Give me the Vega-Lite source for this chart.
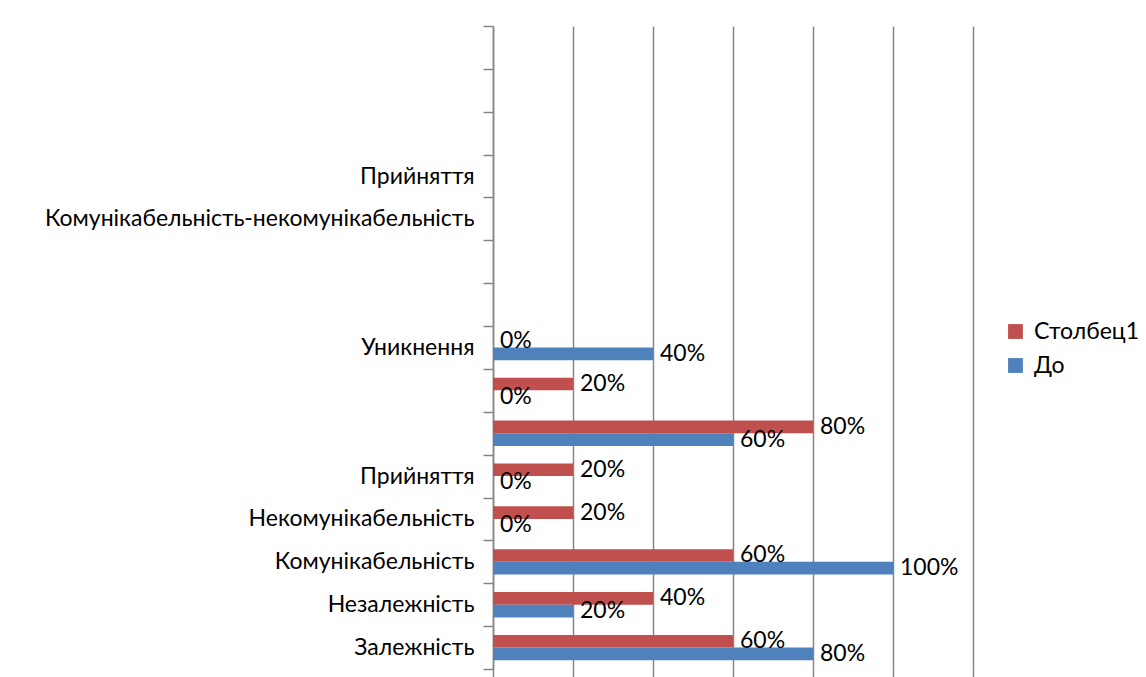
{
  "$schema": "https://vega.github.io/schema/vega-lite/v6.json",
  "width": 480,
  "height": 643,
  "autosize": "none",
  "padding": {"left": 493, "top": 26, "right": 173, "bottom": 8},
  "background": "white",
  "config": {"view": {"stroke": null}, "font": "Lato"},
  "data": {
    "values": [
      {"cat": "8|Уникнення\u00a0", "series": "Столбец1", "value": 0},
      {"cat": "8|Уникнення\u00a0", "series": "До", "value": 0.4},
      {"cat": "7|", "series": "Столбец1", "value": 0.2},
      {"cat": "7|", "series": "До", "value": 0},
      {"cat": "6|", "series": "Столбец1", "value": 0.8},
      {"cat": "6|", "series": "До", "value": 0.6},
      {"cat": "5|Прийняття\u00a0", "series": "Столбец1", "value": 0.2},
      {"cat": "5|Прийняття\u00a0", "series": "До", "value": 0},
      {"cat": "4|Некомунікабельність", "series": "Столбец1", "value": 0.2},
      {"cat": "4|Некомунікабельність", "series": "До", "value": 0},
      {"cat": "3|Комунікабельність", "series": "Столбец1", "value": 0.6},
      {"cat": "3|Комунікабельність", "series": "До", "value": 1.0},
      {"cat": "2|Незалежність", "series": "Столбец1", "value": 0.4},
      {"cat": "2|Незалежність", "series": "До", "value": 0.2},
      {"cat": "1|Залежність", "series": "Столбец1", "value": 0.6},
      {"cat": "1|Залежність", "series": "До", "value": 0.8}
    ]
  },
  "encoding": {
    "y": {
      "field": "cat",
      "type": "nominal",
      "scale": {
        "domain": ["15|", "14|", "13|", "12|Прийняття\u00a0", "11|Комунікабельність-некомунікабельність", "10|", "9|", "8|Уникнення\u00a0", "7|", "6|", "5|Прийняття\u00a0", "4|Некомунікабельність", "3|Комунікабельність", "2|Незалежність", "1|Залежність"],
        "paddingInner": 0,
        "paddingOuter": 0
      },
      "axis": {
        "title": null,
        "labelExpr": "split(datum.value, '|')[1]",
        "labelLimit": 0,
        "tickBand": "extent",
        "tickSize": 10,
        "tickColor": "#868686",
        "tickWidth": 1.5,
        "domainColor": "#868686",
        "domainWidth": 1.5,
        "labelFontSize": 23,
        "labelColor": "#000000",
        "labelPadding": 9,
        "labelFont": "Lato"
      }
    },
    "yOffset": {
      "field": "series",
      "type": "nominal",
      "sort": ["Столбец1", "До"],
      "scale": {"paddingInner": 0, "paddingOuter": 0.69}
    },
    "x": {
      "field": "value",
      "type": "quantitative",
      "scale": {"domain": [0, 1.2], "nice": false},
      "axis": {
        "title": null,
        "labels": false,
        "domain": false,
        "values": [0, 0.2, 0.4, 0.6, 0.8, 1.0, 1.2],
        "grid": true,
        "gridColor": "#868686",
        "gridWidth": 1.5,
        "tickColor": "#868686",
        "tickWidth": 1.5,
        "tickSize": 8
      }
    }
  },
  "layer": [
    {
      "mark": {"type": "bar"},
      "encoding": {
        "color": {
          "field": "series",
          "type": "nominal",
          "sort": ["Столбец1", "До"],
          "scale": {"domain": ["Столбец1", "До"], "range": ["#C0504D", "#4F81BD"]},
          "legend": {
            "title": null,
            "orient": "none",
            "legendX": 511,
            "legendY": 294,
            "symbolType": "square",
            "symbolSize": 220,
            "symbolStrokeWidth": 0,
            "labelFontSize": 23,
            "labelColor": "#000000",
            "labelFont": "Lato",
            "labelOffset": 7,
            "rowPadding": 10
          }
        }
      }
    },
    {
      "mark": {"type": "text", "align": "left", "baseline": "middle", "dx": 7, "fontSize": 23, "font": "Lato", "color": "#000000"},
      "encoding": {
        "text": {"field": "value", "type": "quantitative", "format": ".0%"}
      }
    }
  ]
}
